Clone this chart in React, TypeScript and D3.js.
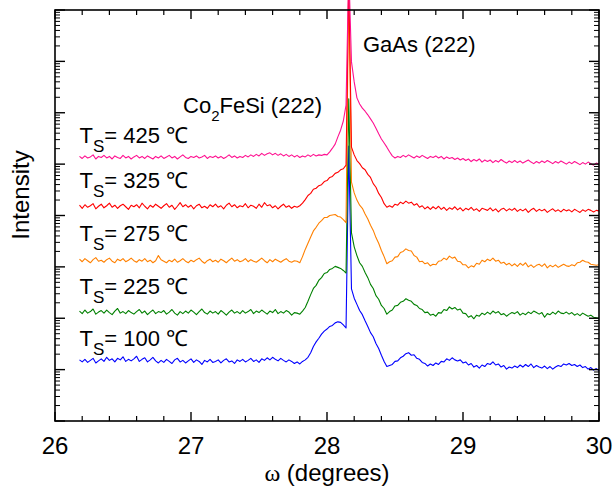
import React from "react";
import * as d3 from "d3";

// omega scan sampling grid (degrees)
const ANGLE_START = 26.18;
const ANGLE_STEP = 0.02;
const POINT_COUNT = 192;

const sampleTemps = ["100", "225", "275", "325", "425"];
const seriesColors = ["#0000ff", "#008000", "#ff8000", "#ff0000", "#ff1090"];
// vertical offset of each scan, in decades
const offsetDecades = [0, 1, 2, 3, 4];

const xTickValues = [26, 27, 28, 29, 30];

// log10(counts), 26.18 .. 30.00 step 0.02
const logI100 = [
  1.19, 1.15, 1.20, 1.14, 1.18, 1.22, 1.13, 1.17, 1.21, 1.16,
  1.24, 1.18, 1.21, 1.15, 1.22, 1.19, 1.25, 1.16, 1.20, 1.17,
  1.21, 1.26, 1.16, 1.20, 1.23, 1.15, 1.19, 1.24, 1.17, 1.13,
  1.18, 1.14, 1.20, 1.16, 1.12, 1.19, 1.22, 1.15, 1.18, 1.13,
  1.17, 1.21, 1.14, 1.19, 1.16, 1.10, 1.18, 1.15, 1.20, 1.14,
  1.16, 1.19, 1.13, 1.18, 1.21, 1.15, 1.17, 1.12, 1.19, 1.16,
  1.20, 1.15, 1.18, 1.22, 1.16, 1.19, 1.14, 1.21, 1.18, 1.23,
  1.19, 1.24, 1.20, 1.17, 1.22, 1.18, 1.15, 1.19, 1.16, 1.12,
  1.15, 1.11, 1.16, 1.19, 1.24, 1.33, 1.45, 1.54, 1.61, 1.69,
  1.75, 1.79, 1.84, 1.86, 1.91, 1.93, 1.92, 1.87, 1.81, 5.35,
  2.57, 2.39, 2.27, 2.15, 2.07, 1.95, 1.84, 1.72, 1.64, 1.51,
  1.41, 1.28, 1.16, 1.06, 1.08, 1.10, 1.16, 1.17, 1.23, 1.26,
  1.31, 1.33, 1.28, 1.29, 1.22, 1.20, 1.14, 1.12, 1.07, 1.11,
  1.08, 1.13, 1.10, 1.16, 1.15, 1.21, 1.18, 1.23, 1.19, 1.17,
  1.19, 1.13, 1.15, 1.09, 1.12, 1.05, 1.08, 1.03, 1.09, 1.06,
  1.12, 1.10, 1.15, 1.09, 1.11, 1.05, 1.08, 1.01, 1.05, 1.03,
  1.07, 1.04, 1.09, 1.05, 1.10, 1.06, 1.11, 1.04, 1.08, 1.05,
  1.03, 1.07, 1.02, 1.06, 1.01, 1.05, 1.08, 1.06, 1.11, 1.09,
  1.12, 1.08, 1.10, 1.06, 1.09, 1.04, 1.06, 1.01, 1.04, 0.99,
  1.02, 0.98,
];

const logI225 = [
  1.14, 1.09, 1.16, 1.10, 1.13, 1.18, 1.08, 1.12, 1.15, 1.10,
  1.16, 1.11, 1.07, 1.14, 1.19, 1.10, 1.13, 1.09, 1.15, 1.11,
  1.08, 1.13, 1.17, 1.10, 1.14, 1.07, 1.12, 1.16, 1.09, 1.13,
  1.11, 1.15, 1.08, 1.12, 1.17, 1.10, 1.06, 1.13, 1.09, 1.14,
  1.10, 1.16, 1.12, 1.07, 1.13, 1.18, 1.11, 1.08, 1.14, 1.10,
  1.13, 1.08, 1.15, 1.11, 1.06, 1.12, 1.16, 1.10, 1.13, 1.09,
  1.15, 1.10, 1.13, 1.17, 1.09, 1.14, 1.11, 1.16, 1.12, 1.08,
  1.14, 1.11, 1.17, 1.09, 1.13, 1.10, 1.15, 1.12, 1.06, 1.11,
  1.10, 1.08, 1.14, 1.21, 1.33, 1.46, 1.58, 1.64, 1.74, 1.79,
  1.87, 1.89, 1.95, 1.97, 2.01, 1.99, 1.97, 1.93, 1.88, 5.27,
  2.66, 2.39, 2.22, 2.08, 2.01, 1.89, 1.79, 1.66, 1.58, 1.44,
  1.37, 1.25, 1.19, 1.08, 1.13, 1.16, 1.24, 1.25, 1.31, 1.33,
  1.38, 1.35, 1.33, 1.27, 1.25, 1.19, 1.17, 1.11, 1.12, 1.06,
  1.08, 1.04, 1.11, 1.10, 1.17, 1.15, 1.22, 1.18, 1.21, 1.16,
  1.18, 1.10, 1.09, 1.02, 1.05, 0.99, 1.06, 1.04, 1.10, 1.07,
  1.12, 1.08, 1.14, 1.10, 1.13, 1.07, 1.09, 1.04, 1.08, 1.11,
  1.09, 1.13, 1.06, 1.10, 1.07, 1.12, 1.09, 1.14, 1.11, 1.08,
  1.11, 1.02, 1.09, 1.07, 1.12, 1.08, 1.14, 1.10, 1.09, 1.12,
  1.08, 1.11, 1.06, 1.09, 1.05, 1.10, 1.07, 1.04, 1.06, 1.02,
  1.01, 1.00,
];

const logI275 = [
  1.15, 1.10, 1.16, 1.12, 1.08, 1.14, 1.18, 1.11, 1.13, 1.09,
  1.14, 1.17, 1.11, 1.08, 1.15, 1.12, 1.16, 1.10, 1.13, 1.17,
  1.12, 1.09, 1.14, 1.11, 1.16, 1.10, 1.13, 1.08, 1.12, 1.22,
  1.14, 1.11, 1.08, 1.13, 1.10, 1.15, 1.09, 1.12, 1.16, 1.11,
  1.08, 1.13, 1.10, 1.14, 1.17, 1.11, 1.07, 1.12, 1.15, 1.10,
  1.13, 1.09, 1.15, 1.12, 1.08, 1.13, 1.17, 1.11, 1.14, 1.10,
  1.12, 1.16, 1.10, 1.14, 1.11, 1.09, 1.13, 1.17, 1.12, 1.08,
  1.14, 1.10, 1.15, 1.12, 1.09, 1.13, 1.16, 1.11, 1.09, 1.12,
  1.11, 1.08, 1.20, 1.34, 1.46, 1.58, 1.70, 1.77, 1.85, 1.90,
  1.96, 1.96, 2.00, 2.01, 2.02, 1.98, 1.97, 1.92, 1.86, 6.60,
  2.65, 2.44, 2.30, 2.20, 2.14, 2.03, 1.93, 1.81, 1.71, 1.57,
  1.46, 1.32, 1.20, 1.06, 1.10, 1.12, 1.19, 1.20, 1.28, 1.30,
  1.35, 1.32, 1.31, 1.22, 1.19, 1.10, 1.11, 1.06, 1.08, 1.02,
  1.05, 1.04, 1.11, 1.12, 1.17, 1.14, 1.21, 1.17, 1.19, 1.11,
  1.10, 1.04, 1.04, 0.98, 1.02, 1.00, 1.07, 1.05, 1.13, 1.10,
  1.15, 1.12, 1.17, 1.11, 1.13, 1.07, 1.09, 1.04, 1.07, 1.02,
  1.06, 1.01, 1.07, 1.03, 1.08, 1.00, 1.04, 0.99, 1.03, 1.05,
  1.01, 1.06, 0.98, 1.03, 1.00, 1.04, 0.99, 1.02, 1.05, 1.02,
  1.01, 1.04, 1.02, 1.08, 1.09, 1.13, 1.10, 1.09, 1.05, 1.04,
  1.03, 1.04,
];

const logI325 = [
  1.20, 1.14, 1.21, 1.16, 1.19, 1.23, 1.13, 1.18, 1.22, 1.15,
  1.19, 1.24, 1.16, 1.20, 1.14, 1.19, 1.22, 1.17, 1.12, 1.20,
  1.17, 1.21, 1.15, 1.24, 1.18, 1.13, 1.20, 1.16, 1.22, 1.18,
  1.14, 1.19, 1.23, 1.16, 1.20, 1.12, 1.18, 1.25, 1.17, 1.21,
  1.16, 1.20, 1.13, 1.19, 1.22, 1.15, 1.18, 1.14, 1.21, 1.17,
  1.22, 1.16, 1.19, 1.13, 1.20, 1.24, 1.17, 1.21, 1.15, 1.19,
  1.17, 1.23, 1.15, 1.20, 1.18, 1.14, 1.22, 1.16, 1.25, 1.19,
  1.21, 1.15, 1.19, 1.13, 1.18, 1.22, 1.16, 1.19, 1.14, 1.18,
  1.16, 1.19, 1.24, 1.31, 1.39, 1.43, 1.51, 1.53, 1.58, 1.60,
  1.66, 1.68, 1.74, 1.76, 1.82, 1.84, 1.89, 1.91, 1.98, 5.60,
  2.33, 2.18, 2.07, 2.01, 1.93, 1.89, 1.80, 1.74, 1.62, 1.55,
  1.43, 1.35, 1.23, 1.16, 1.19, 1.16, 1.22, 1.20, 1.26, 1.23,
  1.28, 1.24, 1.26, 1.20, 1.23, 1.16, 1.19, 1.13, 1.17, 1.12,
  1.17, 1.13, 1.18, 1.12, 1.16, 1.10, 1.15, 1.12, 1.17, 1.11,
  1.15, 1.09, 1.14, 1.11, 1.16, 1.10, 1.13, 1.08, 1.14, 1.12,
  1.10, 1.15, 1.09, 1.13, 1.07, 1.12, 1.14, 1.09, 1.13, 1.10,
  1.14, 1.08, 1.12, 1.09, 1.13, 1.06, 1.11, 1.14, 1.08, 1.12,
  1.09, 1.12, 1.06, 1.10, 1.13, 1.08, 1.11, 1.07, 1.12, 1.09,
  1.11, 1.07, 1.12, 1.09, 1.06, 1.11, 1.08, 1.12, 1.10, 1.07,
  1.10, 1.09,
];

const logI425 = [
  1.15, 1.11, 1.16, 1.12, 1.14, 1.18, 1.10, 1.15, 1.13, 1.17,
  1.12, 1.15, 1.10, 1.16, 1.13, 1.11, 1.17, 1.12, 1.15, 1.10,
  1.14, 1.17, 1.12, 1.15, 1.11, 1.16, 1.13, 1.10, 1.15, 1.12,
  1.16, 1.11, 1.14, 1.17, 1.12, 1.15, 1.10, 1.14, 1.18, 1.13,
  1.11, 1.15, 1.13, 1.16, 1.12, 1.14, 1.17, 1.11, 1.15, 1.13,
  1.16, 1.12, 1.15, 1.11, 1.14, 1.18, 1.13, 1.16, 1.12, 1.15,
  1.13, 1.17, 1.14, 1.18, 1.15, 1.19, 1.16, 1.21, 1.17, 1.20,
  1.22, 1.18, 1.21, 1.17, 1.20, 1.16, 1.19, 1.15, 1.18, 1.14,
  1.17, 1.13, 1.16, 1.14, 1.18, 1.15, 1.19, 1.16, 1.18, 1.17,
  1.19, 1.18, 1.24, 1.31, 1.39, 1.53, 1.66, 1.84, 2.15, 4.80,
  2.99, 2.60, 2.29, 2.17, 2.09, 2.03, 1.96, 1.88, 1.80, 1.70,
  1.59, 1.49, 1.41, 1.33, 1.24, 1.16, 1.12, 1.15, 1.13, 1.17,
  1.14, 1.18, 1.15, 1.12, 1.16, 1.13, 1.17, 1.14, 1.11, 1.15,
  1.13, 1.16, 1.12, 1.15, 1.10, 1.14, 1.11, 1.13, 1.09, 1.12,
  1.08, 1.11, 1.07, 1.10, 1.05, 1.09, 1.06, 1.10, 1.04, 1.08,
  1.05, 1.08, 1.03, 1.07, 1.04, 1.09, 1.05, 1.02, 1.06, 1.03,
  1.07, 1.03, 1.06, 1.02, 1.05, 1.08, 1.04, 1.01, 1.05, 1.02,
  1.06, 1.03, 1.07, 1.04, 1.01, 1.05, 1.02, 1.06, 1.03, 1.00,
  1.04, 1.01, 1.05, 1.02, 0.99, 1.03, 1.00, 1.04, 1.01, 0.98,
  1.02, 1.00,
];

const FONT = "'Liberation Sans', Arial, Helvetica, sans-serif";

export default function App() {
  const W = 614;
  const H = 487;
  const left = 55, right = 599, top = 10, bottom = 421;

  const x = d3.scaleLinear().domain([26, 30]).range([left, right]);
  const y = d3.scaleLog().domain([1, 1e8]).range([bottom, top]);

  const angles = d3.range(POINT_COUNT).map((i) => ANGLE_START + i * ANGLE_STEP);
  const allSeries = [logI100, logI225, logI275, logI325, logI425];

  const line = d3
    .line<[number, number]>()
    .x((d) => x(d[0]))
    .y((d) => y(d[1]));

  const xMinor = d3.range(26, 30.0001, 0.2).filter((v) => Math.abs(v - Math.round(v)) > 1e-6);
  const yMajor = d3.range(0, 9).map((d) => Math.pow(10, d));
  const yMinor: number[] = [];
  for (let d = 0; d < 8; d++) for (let m = 2; m <= 9; m++) yMinor.push(m * Math.pow(10, d));

  // label levels (log10 intensity above each scan's offset)
  const labelLevels = [1.46, 1.47, 1.5, 1.53, 1.41];

  return (
    <svg
      width={W}
      height={H}
      style={{ position: "absolute", left: 0, top: 0, background: "#fff" }}
      fontFamily={FONT}
    >
      <rect x={0} y={0} width={W} height={H} fill="#fff" />
      {allSeries.map((s, k) => {
        const pts: [number, number][] = s.map((v, i) => [angles[i], Math.pow(10, v + offsetDecades[k])]);
        return (
          <path key={k} d={line(pts) || ""} fill="none" stroke={seriesColors[k]} strokeWidth={1.1} strokeLinejoin="round" />
        );
      })}

      {/* frame */}
      <rect x={left} y={top} width={right - left} height={bottom - top} fill="none" stroke="#000" strokeWidth={1.6} />

      {/* x ticks bottom/top */}
      {xTickValues.map((v) => (
        <g key={"xM" + v}>
          <line x1={x(v)} x2={x(v)} y1={bottom} y2={bottom - 9} stroke="#000" strokeWidth={1.4} />
          <line x1={x(v)} x2={x(v)} y1={top} y2={top + 9} stroke="#000" strokeWidth={1.4} />
          <text x={x(v)} y={454} textAnchor="middle" fontSize={24} fill="#000">
            {v}
          </text>
        </g>
      ))}
      {xMinor.map((v, i) => (
        <g key={"xm" + i}>
          <line x1={x(v)} x2={x(v)} y1={bottom} y2={bottom - 5} stroke="#000" strokeWidth={1.2} />
          <line x1={x(v)} x2={x(v)} y1={top} y2={top + 5} stroke="#000" strokeWidth={1.2} />
        </g>
      ))}

      {/* y ticks left/right */}
      {yMajor.map((v, i) => (
        <g key={"yM" + i}>
          <line x1={left} x2={left + 10} y1={y(v)} y2={y(v)} stroke="#000" strokeWidth={1.4} />
          <line x1={right} x2={right - 10} y1={y(v)} y2={y(v)} stroke="#000" strokeWidth={1.4} />
        </g>
      ))}
      {yMinor.map((v, i) => (
        <g key={"ym" + i}>
          <line x1={left} x2={left + 5} y1={y(v)} y2={y(v)} stroke="#000" strokeWidth={1} />
          <line x1={right} x2={right - 5} y1={y(v)} y2={y(v)} stroke="#000" strokeWidth={1} />
        </g>
      ))}

      {/* axis titles */}
      <text x={327} y={481} textAnchor="middle" fontSize={24} fill="#000">
        <tspan fontFamily="'Liberation Serif', 'DejaVu Serif', serif">ω</tspan> (degrees)
      </text>
      <text transform={`translate(29,195) rotate(-90)`} textAnchor="middle" fontSize={24} fill="#000">
        Intensity
      </text>

      {/* peak annotations */}
      <text x={363} y={52} fontSize={22} fill="#000">
        GaAs (222)
      </text>
      <text x={183} y={113} fontSize={22} fill="#000">
        Co<tspan dy={8} fontSize={15}>2</tspan>
        <tspan dy={-8}>FeSi (222)</tspan>
      </text>

      {/* sample labels */}
      {sampleTemps.map((t, k) => (
        <text key={t} x={x(26.18)} y={y(Math.pow(10, labelLevels[k] + offsetDecades[k]))} fontSize={22} fill="#000">
          T<tspan dy={9} fontSize={17}>S</tspan>
          <tspan dy={-9}>= {t} ℃</tspan>
        </text>
      ))}
    </svg>
  );
}
